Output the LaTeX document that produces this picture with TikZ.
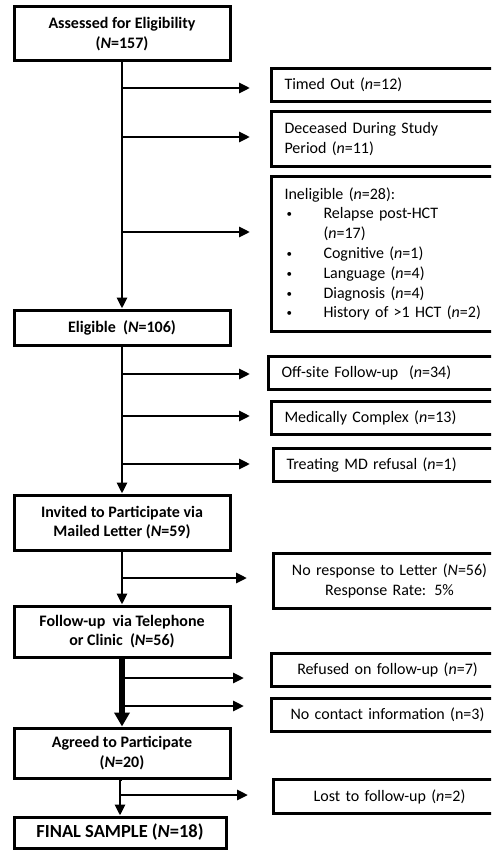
\documentclass[tikz,border=0pt]{standalone}
\usepackage{fontspec}
\setmainfont{Carlito}
\usetikzlibrary{arrows.meta}
\newcommand{\smbul}{\hspace*{2pt}\makebox[37pt][l]{\raisebox{1pt}{\fontsize{11}{11}\selectfont\textbullet}}}
\begin{document}
\begin{tikzpicture}[x=1pt,y=-1pt,
  lbox/.style={draw, line width=3pt, minimum width=216pt, align=center,
    font=\fontsize{16}{19.5}\selectfont\bfseries, inner sep=0pt},
  rbox/.style={draw, line width=3pt, anchor=north west, minimum width=232pt,
    text width=206pt, inner xsep=13pt, inner ysep=0pt, align=left,
    font=\fontsize{16}{19.8}\selectfont},
  rcbox/.style={rbox, align=center, inner xsep=6pt, text width=220pt},
  arr/.style={line width=2.8pt, -{Triangle[length=11pt,width=10pt]}},
  thickarr/.style={line width=5.5pt, -{Triangle[length=14pt,width=15pt]}},
]
\clip (0,0) rectangle (491,861);
% left column
\node[lbox, minimum height=54pt] (A) at (122,34) {Assessed for Eligibility\\(\textit{N}=157)};
\node[lbox, minimum height=35pt] (B) at (122,327.5) {Eligible~ (\textit{N}=106)};
\node[lbox, minimum height=55pt] (C) at (122,522.5) {Invited to Participate via\\Mailed Letter (\textit{N}=59)};
\node[lbox, minimum height=51pt] (D) at (122,631.5) {Follow-up~ via Telephone\\or Clinic~ (\textit{N}=56)};
\node[lbox, minimum height=50pt] (E) at (122,753) {Agreed to Participate\\(\textit{N}=20)};
\node[lbox, minimum height=31pt, minimum width=212pt, font=\fontsize{18.5}{22}\selectfont\bfseries] (F) at (120,832.5) {FINAL SAMPLE (\textit{N}=18)};
% right column
\node[rbox, minimum height=33pt] (R1) at (270,67) {Timed Out (\textit{n}=12)};
\node[rbox, minimum height=55pt] (R2) at (270,110) {Deceased During Study\\Period (\textit{n}=11)};
\node[rbox, minimum height=155pt] (R3) at (270,175) {Ineligible (\textit{n}=28):\\
\smbul Relapse post-HCT\\
\hspace*{39pt}(\textit{n}=17)\\
\smbul Cognitive (\textit{n}=1)\\
\smbul Language (\textit{n}=4)\\
\smbul Diagnosis (\textit{n}=4)\\
\smbul History of >1 HCT (\textit{n}=2)};
\node[rbox, minimum height=33pt] (R4) at (267,355) {Off-site Follow-up~ (\textit{n}=34)};
\node[rbox, minimum height=33pt] (R5) at (270,400) {Medically Complex (\textit{n}=13)};
\node[rbox, minimum height=33pt] (R6) at (272,447) {Treating MD refusal (\textit{n}=1)};
\node[rcbox, minimum height=55pt] (R7) at (272,552) {No response to Letter (\textit{N}=56)\\Response Rate: 5\%};
\node[rcbox, minimum height=33pt] (R8) at (270,652) {Refused on follow-up (\textit{n}=7)};
\node[rcbox, minimum height=33pt] (R9) at (270,697) {No contact information (n=3)};
\node[rcbox, minimum height=34pt] (R10) at (272,778) {Lost to follow-up (\textit{n}=2)};
% trunk arrows
\draw[arr] (A.south) -- (B.north);
\draw[arr] (B.south) -- (C.north);
\draw[arr] (C.south) -- (D.north);
\draw[thickarr] (D.south) -- (E.north);
\draw[arr] (E.south) -- (F.north |- E.south) -- (F.north);
% branch coordinates
\coordinate (s1) at (122,88);  \coordinate (e1) at (250,88);
\coordinate (s2) at (122,137); \coordinate (e2) at (250,137);
\coordinate (s3) at (122,232); \coordinate (e3) at (250,232);
\coordinate (s4) at (122,374); \coordinate (e4) at (250,374);
\coordinate (s5) at (122,416); \coordinate (e5) at (250,416);
\coordinate (s6) at (122,464); \coordinate (e6) at (250,464);
\coordinate (s7) at (122,578); \coordinate (e7) at (247,578);
\coordinate (s8) at (122,678); \coordinate (e8) at (244,678);
\coordinate (s9) at (122,706); \coordinate (e9) at (244,706);
\coordinate (s10) at (120,795); \coordinate (e10) at (248,795);
\foreach \i in {1,...,10} {\draw[arr] (s\i) -- (e\i);}
\end{tikzpicture}
\end{document}
